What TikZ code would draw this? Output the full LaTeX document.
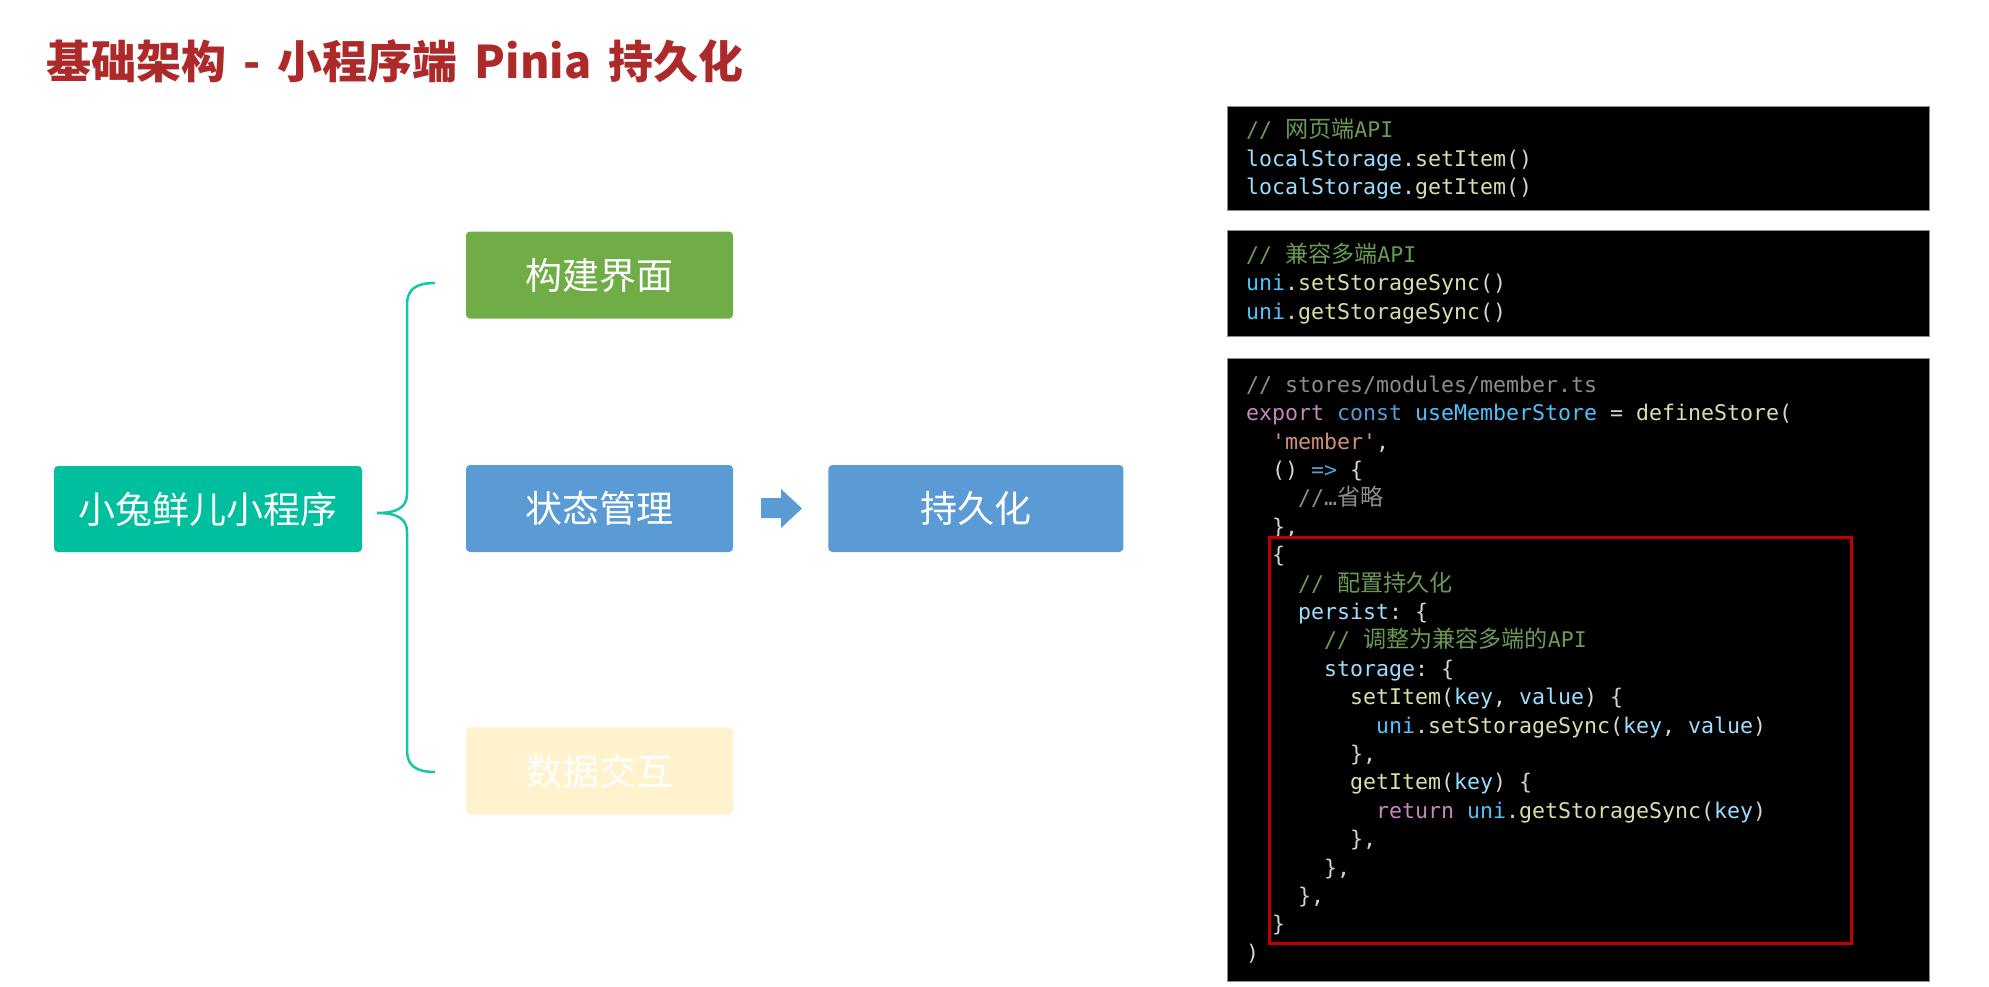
\documentclass[tikz,border=0pt]{standalone}
\usepackage{fontspec}
\setmonofont{DejaVu Sans Mono}
\newfontfamily\cjk{Noto Sans CJK SC}
\newfontfamily\zhcode[Scale=1.07]{Noto Sans CJK SC}
\usepackage{xcolor}
\usepackage{tikz}
\usetikzlibrary{positioning,calc}
\definecolor{headred}{HTML}{AE2A2A}
\definecolor{mint}{HTML}{00BF9F}
\definecolor{leaf}{HTML}{70AD47}
\definecolor{sky}{HTML}{5B9BD5}
\definecolor{cream}{HTML}{FFF2CC}
\definecolor{mark}{HTML}{C00000}
% code colours
\definecolor{kcmt}{HTML}{6A9955}
\definecolor{kgray}{HTML}{8C8C8C}
\definecolor{kvar}{HTML}{9CDCFE}
\definecolor{kfn}{HTML}{DCDCAA}
\definecolor{kcn}{HTML}{4FC1FF}
\definecolor{kkw}{HTML}{569CD6}
\definecolor{kctl}{HTML}{C586C0}
\definecolor{kstr}{HTML}{CE9178}
\definecolor{kpun}{HTML}{D4D4D4}
\newcommand\cmt[1]{\textcolor{kcmt}{#1}}
\newcommand\cgr[1]{\textcolor{kgray}{#1}}
\newcommand\cva[1]{\textcolor{kvar}{#1}}
\newcommand\cfn[1]{\textcolor{kfn}{#1}}
\newcommand\ccn[1]{\textcolor{kcn}{#1}}
\newcommand\ckw[1]{\textcolor{kkw}{#1}}
\newcommand\cct[1]{\textcolor{kctl}{#1}}
\newcommand\cst[1]{\textcolor{kstr}{#1}}
\newcommand\indt[1]{\hspace*{#1\fontcharwd\font`x}}
\newcommand\csp{\indt{1}}
\newcommand\widesp{\spaceskip 17pt\relax}
\tikzset{
  topic/.style={rectangle,rounded corners=4pt,text=white,inner sep=0pt,
    font=\cjk\fontsize{37}{44}\selectfont,minimum width=267pt,minimum height=87pt},
  code/.style={rectangle,fill=black,draw=black!45,line width=1pt,align=left,
    text width=664pt,inner xsep=19pt,inner ysep=0pt,text=kpun,
    font=\ttfamily\fontsize{21.6}{28.4}\selectfont},
  curly/.style={draw=mint!90!white,line width=2.5pt},
  frame/.style={draw=mark,line width=3pt},
}

\begin{document}
\begin{tikzpicture}[x=1pt,y=-1pt]
  \useasboundingbox (0,0) rectangle (1989,987);
  \node[anchor=west,text=headred,font=\cjk\bfseries\fontsize{45}{54}\selectfont\widesp] (title) at (43,61) {基础架构 - 小程序端 Pinia 持久化};

  \node[topic,fill=mint,minimum width=308pt,minimum height=86pt] (app) at (208,509) {小兔鲜儿小程序};
  \node[topic,fill=sky] (state) at (599.5,508.5) {状态管理};
  \node[topic,fill=leaf,above=146pt of state] (ui) {构建界面};
  \node[topic,fill=cream,below=175pt of state] (data) {数据交互};
  \node[topic,fill=sky,minimum width=295pt,right=95pt of state] (persist) {持久化};

  % brace from app to the three topics
  \draw[curly] (435,283) .. controls (415,283) and (407,290) .. (407,305) -- (407,494)
    .. controls (407,508) and (396,513) .. (377,513)
    .. controls (396,513) and (407,518) .. (407,532) -- (407,750)
    .. controls (407,765) and (415,772) .. (435,772);
  % block arrow state -> persist
  \fill[sky] (761,498) -- (781,498) -- (781,489) -- (802,508.5) -- (781,528) -- (781,518) -- (761,518) -- cycle;

  \node[code,minimum height=104pt] (web) at (1578,159) {%
    \cmt{//\csp{\zhcode 网页端}API}\\
    \cva{localStorage}.\cfn{setItem}()\\
    \cva{localStorage}.\cfn{getItem}()};
  \node[code,minimum height=105pt,below=19pt of web] (multi) {%
    \cmt{//\csp{\zhcode 兼容多端}API}\\
    \ccn{uni}.\cfn{setStorageSync}()\\
    \ccn{uni}.\cfn{getStorageSync}()};
  \node[code,minimum height=623pt,below=21pt of multi] (store) {%
    \cgr{//\csp stores/modules/member.ts}\\
    \cct{export}\csp\ckw{const}\csp\ccn{useMemberStore}\csp=\csp\cfn{defineStore}(\\
    \indt{2}\cst{'member'},\\
    \indt{2}()\csp\ckw{=>}\csp\{\\
    \indt{4}\cgr{//…{\zhcode 省略}}\\
    \indt{2}\},\\
    \indt{2}\{\\
    \indt{4}\cmt{//\csp{\zhcode 配置持久化}}\\
    \indt{4}\cva{persist}:\csp\{\\
    \indt{6}\cmt{//\csp{\zhcode 调整为兼容多端的}API}\\
    \indt{6}\cva{storage}:\csp\{\\
    \indt{8}\cfn{setItem}(\cva{key},\csp\cva{value})\csp\{\\
    \indt{10}\ccn{uni}.\cfn{setStorageSync}(\cva{key},\csp\cva{value})\\
    \indt{8}\},\\
    \indt{8}\cfn{getItem}(\cva{key})\csp\{\\
    \indt{10}\cct{return}\csp\ccn{uni}.\cfn{getStorageSync}(\cva{key})\\
    \indt{8}\},\\
    \indt{6}\},\\
    \indt{4}\},\\
    \indt{2}\}\\
    )};
  \draw[frame] (1269,537) rectangle (1851,943);
\end{tikzpicture}
\end{document}
